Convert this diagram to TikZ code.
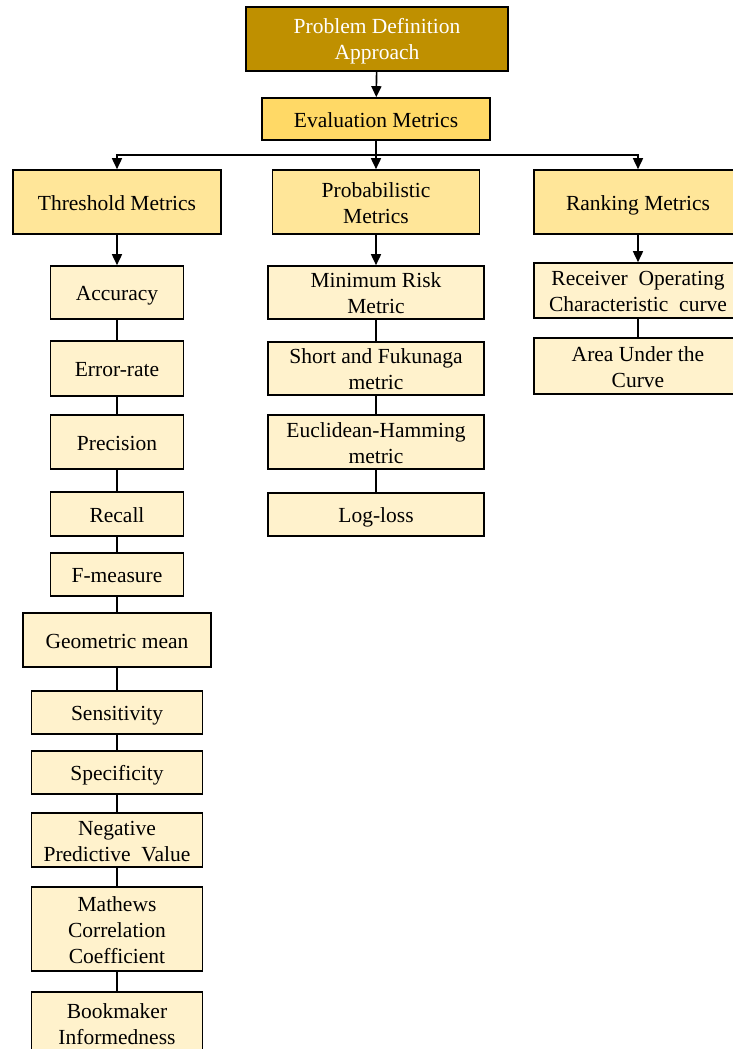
\documentclass[tikz,border=0pt]{standalone}
\usepackage{fontspec}
\setmainfont{Liberation Serif}
\usetikzlibrary{arrows.meta}

\definecolor{golddark}{HTML}{BF9000}
\definecolor{goldmid}{HTML}{FFD966}
\definecolor{goldlight}{HTML}{FFE699}
\definecolor{goldpale}{HTML}{FFF2CC}

\begin{document}
\begin{tikzpicture}[x=1pt, y=-1pt, line width=1.6pt, >={Triangle[length=11pt,width=10pt]},
    box/.style={draw, rectangle, align=flush center, inner sep=0pt, font=\fontsize{21.5}{26}\selectfont,
        execute at begin node={\rule{0pt}{21pt}}, execute at end node={\rule[-5pt]{0pt}{5pt}}},
    boxdim/.style 2 args={minimum width=#1, text width=#1, minimum height=#2},
    rootbox/.style={box, fill=golddark, text=white},
    evalbox/.style={box, fill=goldmid},
    groupbox/.style={box, fill=goldlight},
    leafbox/.style={box, fill=goldpale}]
    \useasboundingbox (0,0) rectangle (733,1049);
    \clip (0,0) rectangle (733,1049);

    % top of the tree
    \node[rootbox, boxdim={262pt}{64pt}] (Root) at (377,39) {Problem Definition\\Approach};
    \node[evalbox, boxdim={228pt}{42pt}] (Eval) at (376,119) {Evaluation Metrics};

    % the three groups
    \node[groupbox, boxdim={208pt}{64pt}] (Thr) at (117,202) {Threshold Metrics};
    \node[groupbox, boxdim={207pt}{64pt}] (Prob) at (376,202) {Probabilistic\\Metrics};
    \node[groupbox, boxdim={208pt}{64pt}] (Rank) at (638,202) {Ranking Metrics};

    \coordinate (Bus) at (376,155);

    % threshold metrics
    \node[leafbox, boxdim={133pt}{53pt}] (Acc) at (117,292.5) {Accuracy};
    \node[leafbox, boxdim={133pt}{55pt}] (Err) at (117,368.5) {Error-rate};
    \node[leafbox, boxdim={133pt}{54pt}] (Prec) at (117,442) {Precision};
    \node[leafbox, boxdim={133pt}{44pt}] (Rec) at (117,514) {Recall};
    \node[leafbox, boxdim={133pt}{43pt}] (FMeas) at (117,574.5) {F-measure};
    \node[leafbox, boxdim={188pt}{54pt}] (GMean) at (117,640) {Geometric mean};
    \node[leafbox, boxdim={171pt}{43pt}] (Sens) at (117,712.5) {Sensitivity};
    \node[leafbox, boxdim={171pt}{43pt}] (Spec) at (117,772.5) {Specificity};
    \node[leafbox, boxdim={171pt}{54pt}] (NPV) at (117,840) {Negative\\Predictive\ \ Value};
    \node[leafbox, boxdim={171pt}{84pt}] (MCC) at (117,929) {Mathews\\Correlation\\Coefficient};
    \node[leafbox, boxdim={171pt}{62pt}] (BM) at (117,1023) {Bookmaker\\Informedness};

    % probabilistic metrics
    \node[leafbox, boxdim={216pt}{53pt}] (MinRisk) at (376,292.5) {Minimum Risk\\Metric};
    \node[leafbox, boxdim={216pt}{53pt}] (ShortF) at (376,368.5) {Short and Fukunaga\\metric};
    \node[leafbox, boxdim={216pt}{54pt}] (EuclH) at (376,442) {Euclidean-Hamming\\metric};
    \node[leafbox, boxdim={216pt}{43pt}] (LogLoss) at (376,514.5) {Log-loss};

    % ranking metrics
    \node[leafbox, boxdim={208pt}{55pt}] (ROC) at (638,290.5) {Receiver\ \ Operating\\Characteristic\ \ curve};
    \node[leafbox, boxdim={208pt}{56pt}] (AUC) at (638,366) {Area Under the\\Curve};

    % arrows
    \draw[->] (Root) -- (Eval);
    \draw[->] (Eval) -- (Prob);
    \draw[->] (Bus) -| (Thr);
    \draw[->] (Bus) -| (Rank);
    \draw[->] (Thr) -- (Acc);
    \draw[->] (Prob) -- (MinRisk);
    \draw[->] (Rank) -- (ROC);

    % plain links
    \draw (Acc) -- (Err);
    \draw (Err) -- (Prec);
    \draw (Prec) -- (Rec);
    \draw (Rec) -- (FMeas);
    \draw (FMeas) -- (GMean);
    \draw (GMean) -- (Sens);
    \draw (Sens) -- (Spec);
    \draw (Spec) -- (NPV);
    \draw (NPV) -- (MCC);
    \draw (MCC) -- (BM);
    \draw (MinRisk) -- (ShortF);
    \draw (ShortF) -- (EuclH);
    \draw (EuclH) -- (LogLoss);
    \draw (ROC) -- (AUC);
\end{tikzpicture}
\end{document}
